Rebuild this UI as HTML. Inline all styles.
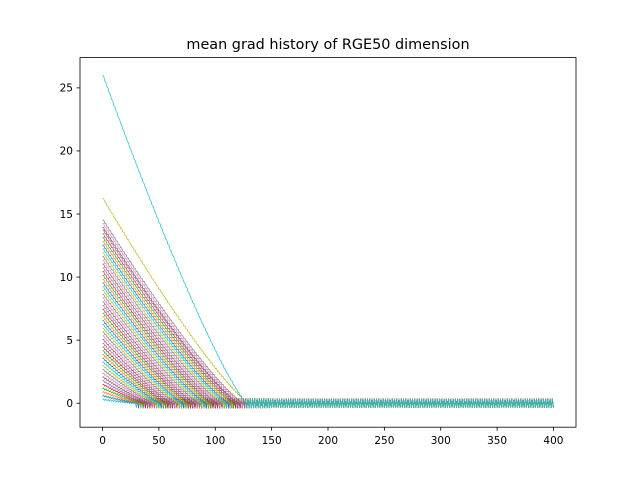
<!DOCTYPE html>
<html><head><meta charset="utf-8"><style>
body{margin:0;background:#fff}
svg{display:block;font-family:"DejaVu Sans","Liberation Sans",sans-serif}
</style></head><body>
<svg id="chart" width="640" height="480" viewBox="0 0 640 480">
<rect width="640" height="480" fill="#fff"/>
<text x="328" y="49" font-size="14.4" text-anchor="middle">mean grad history of RGE50 dimension</text>
<g id="plot"></g>
<rect x="80" y="57.6" width="496" height="369.6" fill="none" stroke="#000" stroke-width="0.8"/>
<g id="ticks"></g>
</svg>
<script>
const xTicks=[0,50,100,150,200,250,300,350,400];
const yTicks=[0,5,10,15,20,25];
const steps=400;
// start values of each series, and step where each reaches zero
const startValues=[26.1,16.3,14.6,14.3,14.0,13.8,13.5,13.2,12.9,12.6,12.3,12.0,11.7,11.4,11.1,10.8,10.5,10.2,9.9,9.6,9.3,9.0,8.7,8.4,8.1,7.8,7.5,7.2,6.9,6.6,6.3,6.0,5.7,5.4,5.1,4.8,4.5,4.2,3.9,3.6,3.3,3.0,2.7,2.4,2.1,1.8,1.5,1.2,0.9,0.6,0.3];
const zeroSteps=[128,130,125,123,121,120,118,116,114,112,110,108,106,104,102,100,98,96,94,92,90,88,86,84,82,80,78,76,74,72,70,68,66,64,62,60,58,56,54,52,50,48,46,44,42,40,38,36,34,32,30];
const bandAmps=[0.33,0.36,0.3,0.38,0.32,0.28,0.35,0.33,0.3,0.37];
const colors=["#1f77b4","#ff7f0e","#2ca02c","#d62728","#9467bd","#8c564b","#e377c2","#7f7f7f","#bcbd22","#17becf"];
const X0=80,X1=576,Y0=427.2,Y1=57.6,xmin=-20,xmax=420,ymin=-1.9,ymax=27.4;
const xs=v=>X0+(v-xmin)/(xmax-xmin)*(X1-X0);
const ys=v=>Y0-(v-ymin)/(ymax-ymin)*(Y0-Y1);
const NS="http://www.w3.org/2000/svg";
const plot=document.getElementById('plot');
const order=[...startValues.keys()].reverse();
for(const i of order){
  const v0=startValues[i],t0=zeroSteps[i],a=bandAmps[i%bandAmps.length];
  let pts=[];
  for(let t=0;t<=steps;t++){
    let v;
    if(t<t0) v=v0*Math.pow(1-t/t0,1.2)+(t%2?0.06:-0.06);
    else v=a*(t%2?1:-1)*(t<150?1.1:1);
    pts.push(xs(t).toFixed(1)+","+ys(v).toFixed(1));
  }
  const pl=document.createElementNS(NS,'polyline');
  
  
  pl.setAttribute('points',pts.join(' '));
  pl.setAttribute('fill','none');
  pl.setAttribute('stroke',colors[((9-i)%10+10)%10]);
  pl.setAttribute('stroke-width','0.7');
  plot.appendChild(pl);
}
const tk=document.getElementById('ticks');
function add(tag,attrs,text){const e=document.createElementNS(NS,tag);for(const k in attrs)e.setAttribute(k,attrs[k]);if(text!==undefined)e.textContent=text;tk.appendChild(e);return e;}
for(const t of xTicks){
  const x=xs(t);
  const l=add('line',{x1:x,x2:x,y1:Y0,y2:Y0+3.5,stroke:'#000','stroke-width':0.8});
  
  
  const tx=add('text',{x:x,y:Y0+17,'font-size':10.5,'text-anchor':'middle'},t);
  
  
}
for(const t of yTicks){
  const y=ys(t);
  const l=add('line',{x1:X0-3.5,x2:X0,y1:y,y2:y,stroke:'#000','stroke-width':0.8});
  
  
  const tx=add('text',{x:X0-7,y:y+3.8,'font-size':10.5,'text-anchor':'end'},t);
  
  
}
</script>
</body></html>
